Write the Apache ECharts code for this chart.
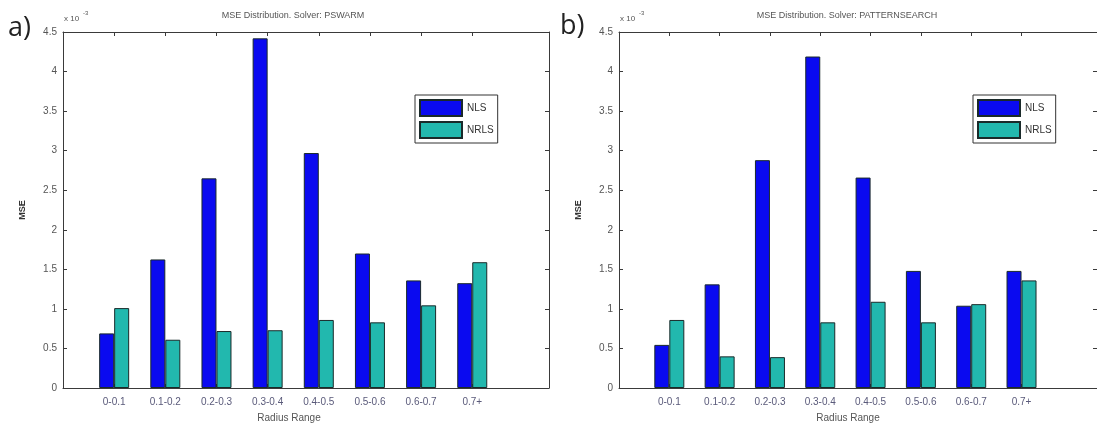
<!DOCTYPE html>
<html>
<head>
<meta charset="utf-8">
<script src="https://cdn.jsdelivr.net/npm/echarts@6/dist/echarts.min.js"></script>
<style>
html,body{margin:0;padding:0;background:#fff;}
#chart{width:1097px;height:429px;}
</style>
</head>
<body>
<div id="chart"></div>
<script>
const categories = ['0-0.1','0.1-0.2','0.2-0.3','0.3-0.4','0.4-0.5','0.5-0.6','0.6-0.7','0.7+'];
const pswarmNLS  = [0.69, 1.625, 2.65, 4.42, 2.97, 1.70, 1.36, 1.325];
const pswarmNRLS = [1.01, 0.61, 0.72, 0.73, 0.86, 0.83, 1.045, 1.59];
const patternNLS  = [0.545, 1.31, 2.88, 4.19, 2.66, 1.48, 1.04, 1.48];
const patternNRLS = [0.86, 0.40, 0.39, 0.83, 1.09, 0.83, 1.06, 1.36];
const yTicks = [0, 0.5, 1, 1.5, 2, 2.5, 3, 3.5, 4, 4.5];

const FONT = 'Liberation Sans';
const C_NLS = '#0a0af0';
const C_NRLS = '#22b8ae';
const AX = '#3a3a3a';
const catPos = categories.map((c, i) => i + 1);

function toPairs(vals) { return vals.map((v, i) => [i + 1, v]); }

function xAxes(gi) {
  return [
    {
      type: 'value', gridIndex: gi, position: 'bottom', min: 0, max: 9.5,
      splitLine: { show: false },
      axisLine: { onZero: false, lineStyle: { color: AX, width: 1 } },
      axisTick: { inside: true, length: 4, customValues: catPos, lineStyle: { color: AX } },
      axisLabel: { customValues: catPos, formatter: v => categories[Math.round(v) - 1] || '',
        color: '#5a5a7a', fontSize: 10, fontFamily: FONT, margin: 9 }
    },
    {
      type: 'value', gridIndex: gi, position: 'top', min: 0, max: 9.5,
      splitLine: { show: false },
      axisLine: { show: true, onZero: false, lineStyle: { color: AX, width: 1 } },
      axisTick: { inside: true, length: 4, customValues: catPos, lineStyle: { color: AX } },
      axisLabel: { show: false }
    }
  ];
}
function yAxes(gi) {
  return [
    {
      type: 'value', gridIndex: gi, position: 'left', min: 0, max: 4.5, interval: 0.5,
      splitLine: { show: false },
      axisLine: { show: true, onZero: false, lineStyle: { color: AX, width: 1 } },
      axisTick: { show: true, inside: true, length: 4, lineStyle: { color: AX } },
      axisLabel: { color: '#555', fontSize: 10, fontFamily: FONT, margin: 6,
        customValues: yTicks, formatter: v => String(v) },
      name: 'MSE', nameLocation: 'middle', nameRotate: 90, nameGap: 36,
      nameTextStyle: { color: '#333', fontSize: 9, fontFamily: FONT, fontWeight: 'bold' }
    },
    {
      type: 'value', gridIndex: gi, position: 'right', min: 0, max: 4.5, interval: 0.5,
      splitLine: { show: false },
      axisLine: { show: true, onZero: false, lineStyle: { color: AX, width: 1 } },
      axisTick: { show: true, inside: true, length: 4, lineStyle: { color: AX } },
      axisLabel: { show: false }
    }
  ];
}

function barSeries(name, vals, color, xi, yi) {
  return {
    type: 'bar', name: name, xAxisIndex: xi, yAxisIndex: yi,
    data: toPairs(vals), barWidth: 15, barGap: '0%',
    itemStyle: { color: color, borderColor: '#1a2a2a', borderWidth: 1 },
    emphasis: { disabled: true }, animation: false
  };
}

const legendCommon = {
  orient: 'vertical', itemWidth: 42, itemHeight: 16, itemGap: 4,
  padding: [4, 4, 4, 4], backgroundColor: '#fff', borderColor: '#333', borderWidth: 1,
  borderRadius: 0, icon: 'rect', selectedMode: false,
  textStyle: { color: '#333', fontSize: 10, fontFamily: FONT },
  data: ['NLS', 'NRLS']
};

const txt = (x, y, s, size, align, extra) => Object.assign({
  type: 'text', x: x, y: y,
  style: Object.assign({ text: s, fontSize: size, fontFamily: FONT, fill: '#444', align: align || 'center', verticalAlign: 'middle' }, extra || {})
});

const option = {
  backgroundColor: '#fff',
  animation: false,
  grid: [
    { left: 63, top: 32, width: 486, height: 356 },
    { left: 619, top: 32, width: 482, height: 356 }
  ],
  xAxis: [...xAxes(0), ...xAxes(1)],
  yAxis: [...yAxes(0), ...yAxes(1)],
  legend: [
    Object.assign({}, legendCommon, { left: 415, top: 95 }),
    Object.assign({}, legendCommon, { left: 973, top: 95 })
  ],
  series: [
    barSeries('NLS', pswarmNLS, C_NLS, 0, 0),
    barSeries('NRLS', pswarmNRLS, C_NRLS, 0, 0),
    barSeries('NLS', patternNLS, C_NLS, 2, 2),
    barSeries('NRLS', patternNRLS, C_NRLS, 2, 2)
  ],
  graphic: [
    txt(293, 16, 'MSE Distribution. Solver: PSWARM', 9, 'center', { fill: '#555' }),
    txt(847, 16, 'MSE Distribution. Solver: PATTERNSEARCH', 9, 'center', { fill: '#555' }),
    txt(289, 418, 'Radius Range', 10, 'center', { fill: '#555' }),
    txt(848, 418, 'Radius Range', 10, 'center', { fill: '#555' }),
    txt(64, 19, 'x 10', 8, 'left', { fill: '#555' }),
    txt(83, 13, '-3', 6, 'left', { fill: '#555' }),
    txt(620, 19, 'x 10', 8, 'left', { fill: '#555' }),
    txt(639, 13, '-3', 6, 'left', { fill: '#555' }),
    txt(8, 28, 'a)', 27, 'left', { fill: '#222', fontFamily: 'Open Sans' }),
    txt(560, 26, 'b)', 27, 'left', { fill: '#222', fontFamily: 'Open Sans' })
  ]
};

const chart = echarts.init(document.getElementById('chart'), null, { renderer: 'canvas' });
chart.setOption(option);
</script>
</body>
</html>
